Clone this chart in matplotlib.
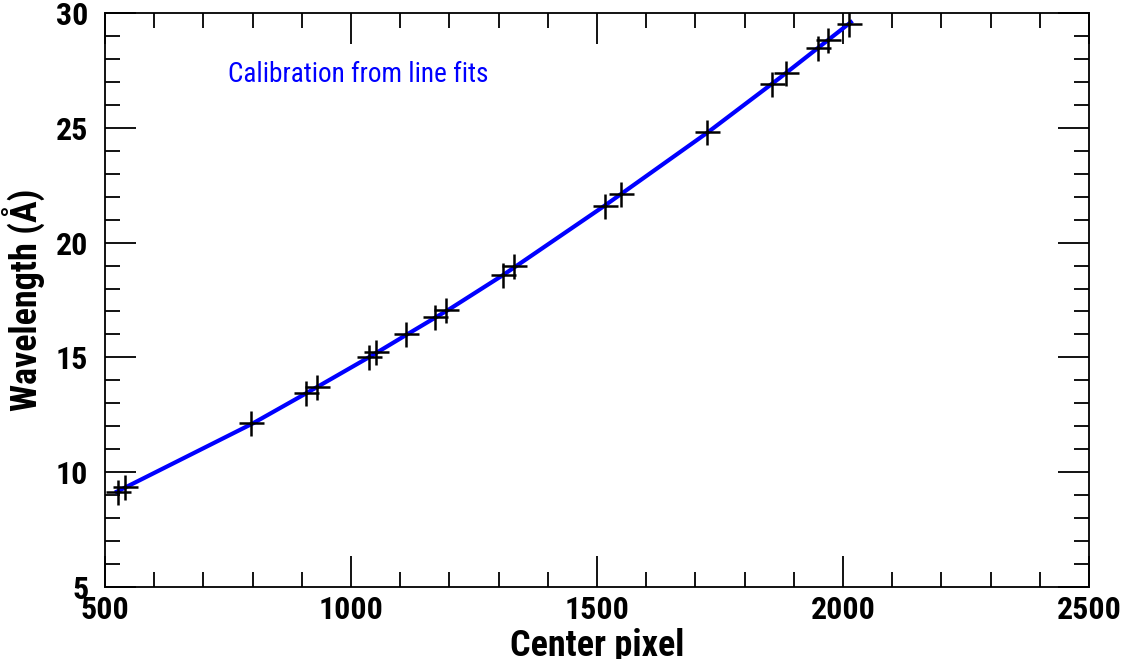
import matplotlib
matplotlib.use("Agg")
import matplotlib.pyplot as plt
from matplotlib.ticker import MultipleLocator

plt.rcParams['font.family'] = ['Roboto Condensed', 'DejaVu Sans']

# measured line centers (pixel, wavelength)
pix = [526, 541, 797, 909, 931, 1036, 1051, 1112, 1171, 1194, 1309, 1331,
       1516, 1549, 1724, 1856, 1885, 1950, 1970, 2012]
wav = [9.14, 9.36, 12.14, 13.44, 13.70, 15.00, 15.25, 16.02, 16.77, 17.06,
       18.59, 18.98, 21.61, 22.10, 24.80, 26.89, 27.40, 28.46, 28.82, 29.52]

# calibration curve
fit_pix = [524, 800, 910, 1040, 1110, 1200, 1310, 1515, 1725, 1870, 2016]
fit_wav = [9.15, 12.12, 13.45, 15.05, 15.95, 17.1, 18.6, 21.6, 24.8, 27.15, 29.6]

fig = plt.figure(figsize=(11.24, 6.59), dpi=100)
ax = fig.add_axes([105 / 1124, 72 / 659, 984 / 1124, 574 / 659])

ax.plot(fit_pix, fit_wav, color='#0000ff', linewidth=3, zorder=2,
        solid_joinstyle='round')
ax.plot(pix, wav, linestyle='none', marker='+', color='black',
        markersize=18, markeredgewidth=1.8, zorder=3)

ax.text(750, 27.3, 'Calibration from line fits', color='#0000ff',
        fontsize=19.6, va='center', ha='left')

ax.set_xlim(500, 2500)
ax.set_ylim(5, 30)
ax.xaxis.set_major_locator(MultipleLocator(500))
ax.xaxis.set_minor_locator(MultipleLocator(100))
ax.yaxis.set_major_locator(MultipleLocator(5))
ax.yaxis.set_minor_locator(MultipleLocator(1))

ax.tick_params(which='both', direction='in', top=True, right=True,
               width=1.3, labelsize=23)
ax.tick_params(which='major', length=22)
ax.tick_params(which='minor', length=11)
ax.tick_params(axis='y', which='major', pad=12)
ax.tick_params(axis='x', which='major', pad=6)
for lbl in ax.get_xticklabels() + ax.get_yticklabels():
    lbl.set_fontweight('bold')
for sp in ax.spines.values():
    sp.set_linewidth(1.3)

ax.set_xlabel('Center pixel', fontsize=26, fontweight='bold', labelpad=2)
ax.set_ylabel('Wavelength (Å)', fontsize=26, fontweight='bold', labelpad=8)

fig.savefig('out.png', dpi=100)
